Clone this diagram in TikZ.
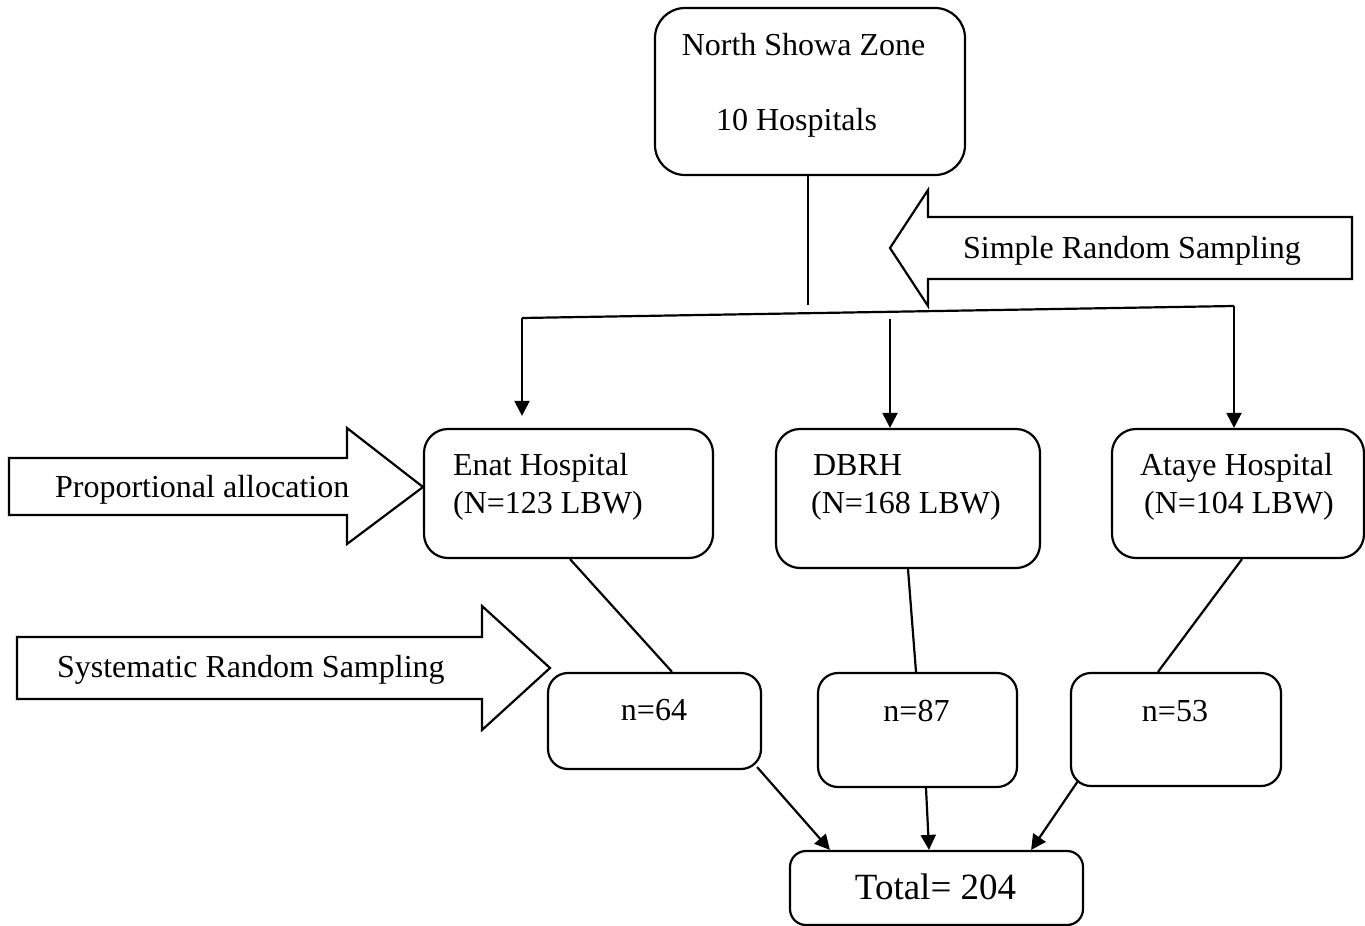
\documentclass[tikz,border=0pt]{standalone}
\usepackage{fontspec}
\setmainfont{Liberation Serif}
\usetikzlibrary{arrows.meta,calc}

\begin{document}
\begin{tikzpicture}[x=0.5pt,y=-0.5pt,line width=1.1pt,
    font=\fontsize{16pt}{19pt}\selectfont,
    roundbox/.style={draw,rounded corners=#1,inner sep=0pt},
    txt/.style={inner sep=0pt,anchor=base west},
    arr/.style={-{Triangle[length=7.5pt,width=7.5pt]}}]
      \useasboundingbox (0,0) rectangle (1365,926);
      % boxes
      \node[roundbox=15pt,minimum width=155pt,minimum height=83.5pt] (zone) at (810,91.5) {};
      \node[roundbox=12pt,minimum width=144.5pt,minimum height=64.5pt] (enat) at (568.5,493.5) {};
      \node[roundbox=12pt,minimum width=132pt,minimum height=69.5pt] (dbrh) at (908,498.5) {};
      \node[roundbox=12pt,minimum width=126pt,minimum height=64.5pt] (ataye) at (1238,493.5) {};
      \node[roundbox=10pt,minimum width=106.5pt,minimum height=48pt] (n64) at (654.5,721) {};
      \node[roundbox=10pt,minimum width=99.5pt,minimum height=57pt] (n87) at (917.5,730) {};
      \node[roundbox=10pt,minimum width=105pt,minimum height=56.5pt] (n53) at (1176,729.5) {};
      \node[roundbox=8pt,minimum width=146.5pt,minimum height=37pt] (total) at (936.5,888) {};
      % texts
      \node[inner sep=0pt,anchor=base] (zoneA) at (803.5,55) {North Showa Zone};
      \node[inner sep=0pt,anchor=base] (zoneB) at (796.5,130) {10 Hospitals};
      \node[txt] (enatA) at (452,475) {Enat Hospital};
      \node[txt] (enatB) at (452,513) {(N=123 LBW)};
      \node[txt] (dbrhA) at (812,475) {DBRH};
      \node[txt] (dbrhB) at (810,513) {(N=168 LBW)};
      \node[txt] (atayeA) at (1139,475) {Ataye Hospital};
      \node[txt] (atayeB) at (1143,513) {(N=104 LBW)};
      \node[inner sep=0pt,anchor=base] (n64t) at (654,720) {n=64};
      \node[inner sep=0pt,anchor=base] (n87t) at (916.5,721) {n=87};
      \node[inner sep=0pt,anchor=base] (n53t) at (1175,721) {n=53};
      \node[inner sep=0pt,anchor=base,font=\fontsize{18.5pt}{22pt}\selectfont] (totalt) at (935.5,899) {Total= 204};
      % block arrows
      \draw (1352,217) -- (928,217) -- (928,190) -- (890,248) -- (928,306) -- (928,279) -- (1352,279) -- cycle;
      \node[txt] (simple) at (962,258) {Simple Random Sampling};
      \draw (9,458) -- (347,458) -- (347,428) -- (423,487) -- (347,544) -- (347,515) -- (9,515) -- cycle;
      \node[txt] (propor) at (54,497) {Proportional allocation};
      \draw (17,637) -- (482,637) -- (482,606) -- (550,668) -- (482,730) -- (482,699) -- (17,699) -- cycle;
      \node[txt] (system) at (56,677) {Systematic Random Sampling};
      % connectors
      \coordinate (trunk) at (808,305);
      \coordinate (barL) at (522,318);
      \coordinate (barR) at (1234,306);
      \coordinate (mid) at (890,319);
      \draw (trunk |- zone.south) -- (trunk);
      \draw (barL) -- (barR);
      \draw[arr] (barL) -- ($(barL |- enat.north)+(0,-12)$);
      \draw[arr] (mid) -- (mid |- dbrh.north);
      \draw[arr] (barR) -- (barR |- ataye.north);
      \draw (enat.south) ++(1.5,0) -- ($(n64.north)+(17.5,0)$);
      \draw (dbrh.south) -- ($(n87.north)+(-1.5,0)$);
      \draw ($(ataye.south)+(4,0)$) -- ($(n53.north)+(-18,0)$);
      \draw[arr] ($(n64.south east)+(-5,-3)$) -- ($(total.north west)+(41,0)$);
      \draw[arr] ($(n87.south)+(8.5,0)$) -- ($(total.north)+(-7.5,0)$);
      \draw[arr] ($(n53.south west)+(8,-6)$) -- ($(total.north east)+(-53,0)$);
\end{tikzpicture}
\end{document}
